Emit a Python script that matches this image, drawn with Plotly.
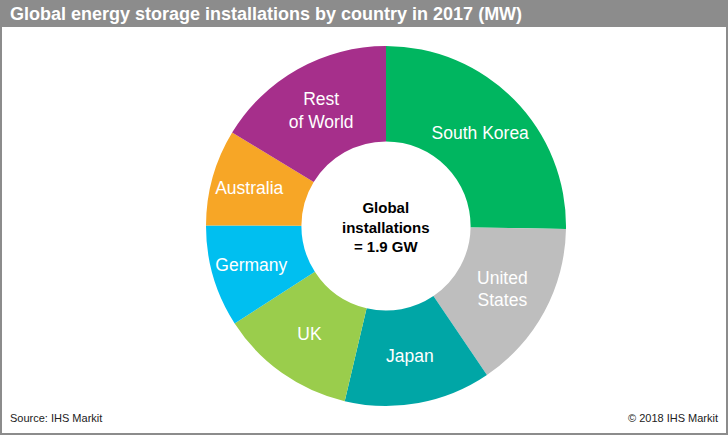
import plotly.graph_objects as go

countries = ["South Korea", "United States", "Japan", "UK", "Germany", "Australia", "Rest of World"]
labels_text = ["South Korea", "United<br>States", "Japan", "UK", "Germany", "Australia", "Rest<br>of World"]
installations_mw = [480, 290, 250, 232, 174, 164, 310]
colors = ["#00B660", "#BEBEBE", "#00A6A6", "#9ACD4C", "#00BFF0", "#F7A626", "#A62F8B"]

W, H = 728, 435

fig = go.Figure(go.Pie(
    labels=countries,
    values=installations_mw,
    text=labels_text,
    textinfo="text",
    hole=0.47,
    sort=False,
    direction="clockwise",
    rotation=0,
    marker=dict(colors=colors, line=dict(width=0)),
    textposition="inside",
    insidetextorientation="horizontal",
    insidetextfont=dict(family="Arial", size=17.5, color="white"),
    domain=dict(x=[206 / W, 566 / W], y=[1 - 406 / H, 1 - 46 / H]),
    showlegend=False,
    hoverinfo="label+value",
))

fig.update_layout(
    width=W, height=H,
    margin=dict(l=0, r=0, t=0, b=0),
    paper_bgcolor="white",
    plot_bgcolor="white",
    uniformtext=dict(minsize=17, mode="show"),
    shapes=[
        dict(type="rect", xref="paper", yref="paper", x0=0, x1=1, y0=1 - 27 / H, y1=1,
             fillcolor="#8C8C8C", line=dict(width=0), layer="below"),
        dict(type="rect", xref="paper", yref="paper", x0=1 / W, x1=1 - 1 / W, y0=1 / H, y1=1 - 1 / H,
             fillcolor="rgba(0,0,0,0)", line=dict(color="#8C8C8C", width=2)),
    ],
    annotations=[
        dict(text="<b>Global energy storage installations by country in 2017 (MW)</b>",
             xref="paper", yref="paper", x=8 / W, y=1 - 14 / H, xanchor="left", yanchor="middle",
             showarrow=False, font=dict(family="Arial", size=18, color="white")),
        dict(text="<b>Global<br>installations<br>= 1.9 GW</b>",
             xref="paper", yref="paper", x=386 / W, y=1 - 227 / H, xanchor="center", yanchor="middle",
             showarrow=False, font=dict(family="Arial", size=15, color="black")),
        dict(text="Source: IHS Markit", xref="paper", yref="paper", x=8 / W, y=1 - 418 / H,
             xanchor="left", yanchor="middle", showarrow=False,
             font=dict(family="Arial", size=11, color="#222222")),
        dict(text="© 2018 IHS Markit", xref="paper", yref="paper", x=1 - 8 / W, y=1 - 418 / H,
             xanchor="right", yanchor="middle", showarrow=False,
             font=dict(family="Arial", size=11, color="#222222")),
    ],
)

fig.write_html("out.html", config={"displayModeBar": False},
               post_script="document.body.style.margin='0';document.body.style.overflow='hidden';")
